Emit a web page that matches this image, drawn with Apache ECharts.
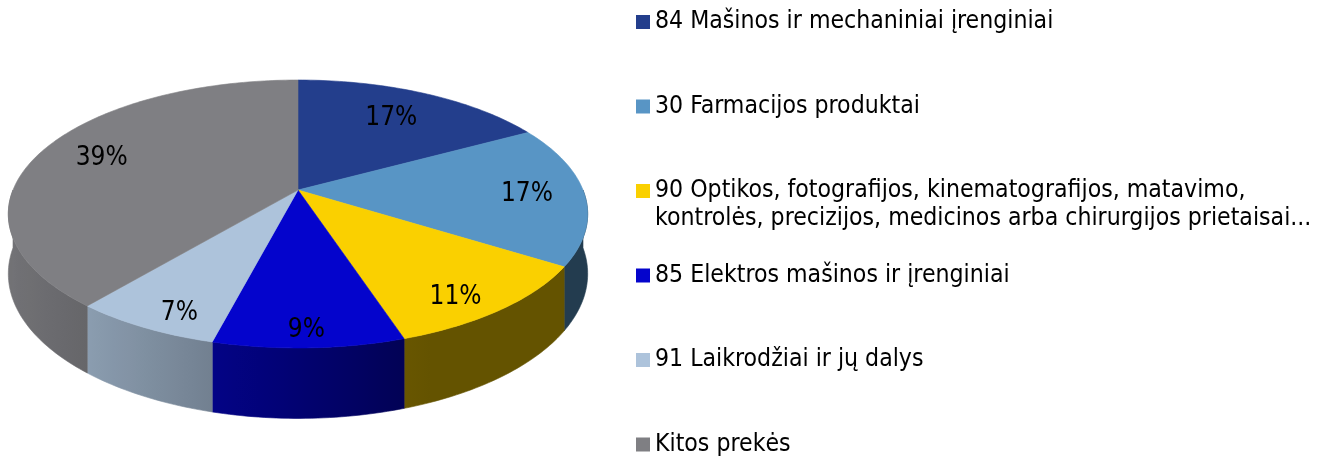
<!DOCTYPE html>
<html>
<head>
<meta charset="utf-8">
<script src="https://cdn.jsdelivr.net/npm/echarts@6/dist/echarts.min.js"></script>
<style>
  html, body { margin: 0; padding: 0; background: #fff; }
  #chart { width: 1330px; height: 457px; }
</style>
</head>
<body>
<div id="chart"></div>
<script>
// pie slices, clockwise from 12 o'clock
const categories = [
  '84 Mašinos ir mechaniniai įrenginiai',
  '30 Farmacijos produktai',
  '90 Optikos, fotografijos, kinematografijos, matavimo,\nkontrolės, precizijos, medicinos arba chirurgijos prietaisai...',
  '85 Elektros mašinos ir įrenginiai',
  '91 Laikrodžiai ir jų dalys',
  'Kitos prekės'
];
const shares = [17, 17, 11, 9, 7, 39];
const colors = ['#233E8C', '#5895C5', '#FAD000', '#0404CC', '#ADC3DB', '#7F7F83'];

const FONT = '"DejaVu Sans Condensed", "DejaVu Sans", sans-serif';

const total = shares.reduce((a, b) => a + b, 0);
const starts = [];
let acc = 0;
shares.forEach(v => { starts.push(acc / total * 360); acc += v; });

// simple perspective view of a tilted disc
const CX = 298, CY = 190, SCALE = 285;
const PERSP = 0.201;           // radius / camera distance
const SIN_T = 0.455;           // tilt
const COS_T = Math.sqrt(1 - SIN_T * SIN_T);
const THICK = 0.228;           // slab thickness (in radii)

function project(a, r, y) {
  const rad = a * Math.PI / 180;
  const X = r * Math.sin(rad), Z = -r * Math.cos(rad);
  const d = 1 - PERSP * Z * COS_T;
  return [CX + SCALE * X / d, CY + SCALE * (Z * SIN_T - y * COS_T) / d];
}

function shade(hex, f) {
  const n = parseInt(hex.slice(1), 16);
  const r = Math.round(((n >> 16) & 255) * f);
  const g = Math.round(((n >> 8) & 255) * f);
  const b = Math.round((n & 255) * f);
  return 'rgb(' + r + ',' + g + ',' + b + ')';
}

// side wall lighting: dark on the right/front, lighter towards the left
function light(a) {
  const s = Math.min(1, Math.max(0, (a - 160) / 100));
  return 0.4 + 0.5 * Math.sin(s * Math.PI / 2);
}

function arc(a0, a1, r, y) {
  const pts = [];
  const n = Math.max(2, Math.ceil(Math.abs(a1 - a0)));
  for (let k = 0; k <= n; k++) pts.push(project(a0 + (a1 - a0) * k / n, r, y));
  return pts;
}

function renderSlice(i) {
  return function (params, api) {
    const a0 = starts[i];
    const a1 = a0 + api.value(0) / total * 360;
    const color = colors[i];
    const children = [];

    // front wall
    const w0 = Math.max(a0, 90), w1 = Math.min(a1, 270);
    if (w1 > w0) {
      const top = arc(w0, w1, 1, 0);
      const bot = arc(w1, w0, 1, -THICK);
      const pts = top.concat(bot);
      let xmin = Infinity, xmax = -Infinity;
      pts.forEach(p => { xmin = Math.min(xmin, p[0]); xmax = Math.max(xmax, p[0]); });
      const stops = [];
      for (let k = 0; k <= 8; k++) {
        const a = w0 + (w1 - w0) * k / 8;
        const x = project(a, 1, 0)[0];
        stops.push({ offset: Math.min(1, Math.max(0, (x - xmin) / (xmax - xmin))), color: shade(color, light(a)) });
      }
      stops.sort((p, q) => p.offset - q.offset);
      const fill = new echarts.graphic.LinearGradient(0, 0, 1, 0, stops);
      children.push({
        type: 'polygon', shape: { points: pts },
        style: { fill: fill, stroke: fill, lineWidth: 0.6 }
      });
    }

    // top face
    const topPts = [[CX, CY]].concat(arc(a0, a1, 1, 0));
    children.push({
      type: 'polygon', shape: { points: topPts },
      style: { fill: color, stroke: color, lineWidth: 0.6 }, z2: 5
    });

    // percentage label
    const mid = (a0 + a1) / 2;
    const c = Math.cos(mid * Math.PI / 180);
    const p = project(mid, 0.8 - 0.1 * Math.max(0, c), 0);
    const dy = 19 * Math.max(0, -c);
    children.push({
      type: 'text', z2: 10,
      style: {
        text: Math.round(api.value(0) / total * 100) + '%',
        x: p[0], y: p[1] + dy,
        align: 'center', verticalAlign: 'middle',
        fontSize: 26, fontFamily: FONT, fill: '#000'
      }
    });
    return { type: 'group', children: children };
  };
}

const LEGEND_Y0 = 22, LEGEND_STEP = 84.5, LINE_H = 28;

const chart = echarts.init(document.getElementById('chart'), null, { renderer: 'canvas' });
chart.setOption({
  backgroundColor: '#ffffff',
  animation: false,
  legend: categories.map((name, i) => ({
    data: [name],
    orient: 'vertical',
    left: 636,
    top: LEGEND_Y0 + i * LEGEND_STEP - (name.indexOf('\n') >= 0 ? 1.5 * LINE_H : 0.5 * LINE_H),
    padding: 0,
    icon: 'rect',
    itemWidth: 14,
    itemHeight: 14,
    selectedMode: false,
    formatter: n => (n.indexOf('\n') >= 0 ? '\n' + n : n),
    textStyle: { fontSize: 24.6, fontFamily: FONT, color: '#000', lineHeight: LINE_H }
  })),
  series: categories.map((name, i) => ({
    type: 'custom',
    name: name,
    coordinateSystem: 'none',
    silent: true,
    itemStyle: { color: colors[i] },
    data: [[shares[i]]],
    renderItem: renderSlice(i)
  }))
});
</script>
</body>
</html>
